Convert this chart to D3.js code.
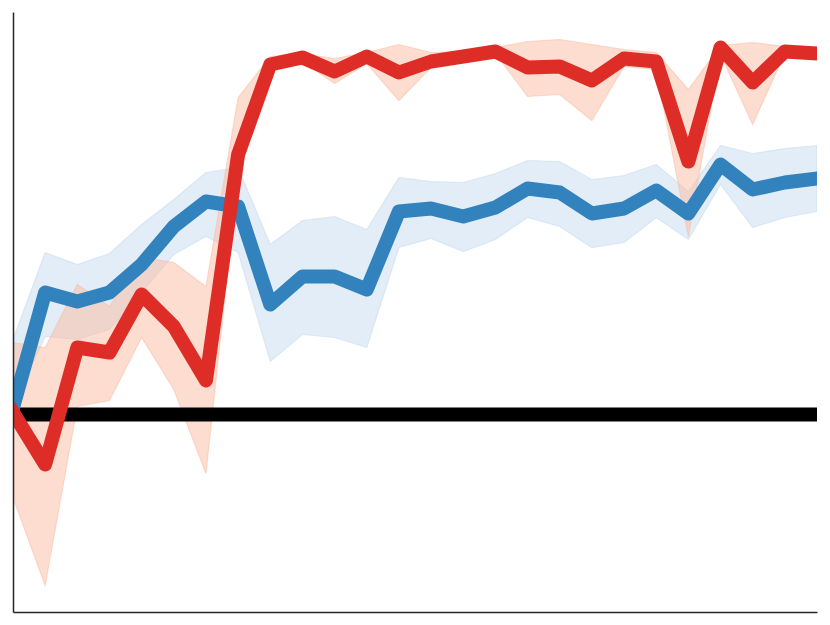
<!DOCTYPE html>
<html>
<head>
<meta charset="utf-8">
<script src="https://cdn.jsdelivr.net/npm/d3@7"></script>
<style>
  body { margin: 0; background: #fff; }
  #chart-area { width: 830px; height: 625px; }
</style>
</head>
<body>
<div id="chart-area"></div>
<script>
// step index along x
var steps = d3.range(26)

// red series: mean and band
var redMean  = [0.02, -0.50, 0.67, 0.62, 1.20, 0.88, 0.34, 2.60, 3.50, 3.57, 3.43, 3.58, 3.42,
                3.53, 3.58, 3.63, 3.47, 3.48, 3.34, 3.56, 3.53, 2.53, 3.67, 3.32, 3.63, 3.61]
var redUpper = [0.72, 0.67, 1.30, 1.08, 1.57, 1.52, 1.28, 3.17, 3.58, 3.61, 3.56, 3.62, 3.70,
                3.62, 3.63, 3.67, 3.73, 3.75, 3.70, 3.65, 3.62, 3.25, 3.69, 3.72, 3.68, 3.67]
var redLower = [-0.83, -1.71, 0.08, 0.14, 0.77, 0.25, -0.59, 2.40, 3.43, 3.53, 3.31, 3.51, 3.14,
                3.47, 3.53, 3.61, 3.18, 3.20, 2.94, 3.48, 3.45, 1.78, 3.60, 2.90, 3.61, 3.57]

// blue series: mean and band
var blueMean  = [0.07, 1.22, 1.13, 1.22, 1.50, 1.88, 2.13, 2.08, 1.10, 1.38, 1.38, 1.25, 2.03,
                 2.06, 1.98, 2.07, 2.26, 2.22, 2.01, 2.06, 2.24, 2.01, 2.50, 2.25, 2.32, 2.36]
var blueUpper = [0.75, 1.62, 1.50, 1.61, 1.90, 2.15, 2.42, 2.47, 1.70, 1.94, 1.98, 1.85, 2.37,
                 2.33, 2.32, 2.41, 2.54, 2.53, 2.35, 2.39, 2.50, 2.23, 2.69, 2.61, 2.66, 2.69]
var blueLower = [0.08, 0.78, 0.75, 0.85, 1.22, 1.60, 1.78, 1.62, 0.53, 0.80, 0.77, 0.67, 1.67,
                 1.76, 1.63, 1.75, 1.97, 1.88, 1.67, 1.72, 1.97, 1.75, 2.30, 1.87, 1.97, 2.03]

// reference level
var baseline = 0

function init() {
    var svgWidth = 830
    var svgHeight = 625

    //margins
    var margin = { top: 12, right: 13, bottom: 13, left: 13 }

    var chartWidth = svgWidth - margin.left - margin.right
    var chartHeight = svgHeight - margin.top - margin.bottom

    var svg = d3.select("#chart-area")
        .append("svg")
        .attr("width", svgWidth)
        .attr("height", svgHeight)

    var chartGroup = svg.append("g")
        .attr("transform", "translate(" + margin.left + "," + margin.top + ")")

    var xScale = d3.scaleLinear()
        .domain([0, steps.length - 1])
        .range([0, chartWidth])

    var yScale = d3.scaleLinear()
        .domain([-1.975, 4.025])
        .range([chartHeight, 0])

    svg.append("defs").append("clipPath")
        .attr("id", "plot-clip")
        .append("rect")
        .attr("width", chartWidth)
        .attr("height", chartHeight)

    var plot = chartGroup.append("g")
        .attr("clip-path", "url(#plot-clip)")

    var band = function(upper, lower) {
        return d3.area()
            .x(i => xScale(i))
            .y0(i => yScale(lower[i]))
            .y1(i => yScale(upper[i]))
    }
    var line = function(vals) {
        return d3.line()
            .x(i => xScale(i))
            .y(i => yScale(vals[i]))
    }

    // bands
    plot.append("path")
        .datum(steps)
        .attr("d", band(blueUpper, blueLower))
        .attr("fill", "#c6dbef")
        .attr("fill-opacity", 0.5)
        .attr("stroke", "#c6dbef")
        .attr("stroke-opacity", 0.5)
        .attr("stroke-width", 1.2)

    plot.append("path")
        .datum(steps)
        .attr("d", band(redUpper, redLower))
        .attr("fill", "#fcbba1")
        .attr("fill-opacity", 0.5)
        .attr("stroke", "#fcbba1")
        .attr("stroke-opacity", 0.5)
        .attr("stroke-width", 1.2)

    // black reference line
    plot.append("line")
        .attr("x1", xScale(0))
        .attr("x2", xScale(steps.length - 1))
        .attr("y1", yScale(baseline))
        .attr("y2", yScale(baseline))
        .attr("stroke", "#000")
        .attr("stroke-width", 14)

    // mean lines
    plot.append("path")
        .datum(steps)
        .attr("d", line(blueMean))
        .attr("fill", "none")
        .attr("stroke", "#3182bd")
        .attr("stroke-width", 14)
        .attr("stroke-linejoin", "round")
        .attr("stroke-linecap", "square")

    plot.append("path")
        .datum(steps)
        .attr("d", line(redMean))
        .attr("fill", "none")
        .attr("stroke", "#de2d26")
        .attr("stroke-width", 14)
        .attr("stroke-linejoin", "round")
        .attr("stroke-linecap", "square")

    // spines only, no ticks
    var leftAxis = d3.axisLeft(yScale).tickValues([]).tickSizeOuter(0)
    var botAxis = d3.axisBottom(xScale).tickValues([]).tickSizeOuter(0)

    chartGroup.append("g")
        .attr("id", "y-axis")
        .call(leftAxis)
        .select(".domain")
        .attr("stroke", "#262626")
        .attr("stroke-width", 1.5)

    chartGroup.append("g")
        .attr("id", "x-axis")
        .attr("transform", `translate(0, ${chartHeight})`)
        .call(botAxis)
        .select(".domain")
        .attr("stroke", "#262626")
        .attr("stroke-width", 1.5)
}

window.addEventListener('load', init, false)
</script>
</body>
</html>
